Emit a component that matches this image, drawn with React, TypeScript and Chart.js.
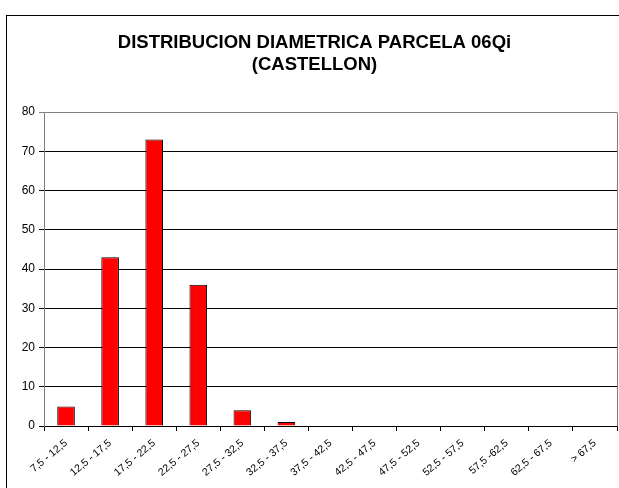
import React, { useEffect, useRef } from "react";
import { Chart, registerables } from "chart.js";

Chart.register(...registerables);

const TITLE_LINES = ["DISTRIBUCION DIAMETRICA PARCELA 06Qi", "(CASTELLON)"];
const CATEGORIES = [
  "7,5 - 12,5",
  "12,5 - 17,5",
  "17,5 - 22,5",
  "22,5 - 27,5",
  "27,5 - 32,5",
  "32,5 - 37,5",
  "37,5 - 42,5",
  "42,5 - 47,5",
  "47,5 - 52,5",
  "52,5 - 57,5",
  "57,5 -62,5",
  "62,5 - 67,5",
  "> 67,5",
];
const COUNTS = [5, 43, 73, 36, 4, 1, 0, 0, 0, 0, 0, 0, 0];
const Y_MIN = 0;
const Y_MAX = 80;
const Y_STEP = 10;

const FONT = "Arial, 'Liberation Sans', sans-serif";

const plotBorder = {
  id: "plotBorder",
  afterDraw(chart: any) {
    const { ctx, chartArea } = chart;
    ctx.save();
    ctx.strokeStyle = "#808080";
    ctx.lineWidth = 1;
    ctx.beginPath();
    const x = Math.round(chartArea.right) + 0.5;
    ctx.moveTo(x, Math.round(chartArea.top) + 0.5);
    ctx.lineTo(x, Math.round(chartArea.bottom) + 0.5);
    ctx.stroke();
    ctx.restore();
  },
};

export default function App() {
  const ref = useRef<HTMLCanvasElement | null>(null);

  useEffect(() => {
    if (!ref.current) return;
    const chart = new Chart(ref.current, {
      type: "bar",
      data: {
        labels: CATEGORIES,
        datasets: [
          {
            data: COUNTS,
            backgroundColor: "#FF0000",
            borderColor: "#000000",
            borderWidth: 1,
            categoryPercentage: 1,
            barPercentage: 0.4,
          },
        ],
      },
      plugins: [plotBorder],
      options: {
        animation: false,
        responsive: false,
        layout: { padding: { left: 12, right: 2, top: 0, bottom: 0 } },
        plugins: {
          legend: { display: false },
          tooltip: { enabled: false },
          title: {
            display: true,
            text: TITLE_LINES,
            color: "#000000",
            font: { family: FONT, size: 18.5, weight: "bold", lineHeight: 1.19 },
            padding: { top: 32, bottom: 36 },
          },
        },
        scales: {
          x: {
            grid: {
              display: true,
              drawOnChartArea: false,
              drawTicks: true,
              tickLength: 5,
              color: "#000000",
              offset: true,
            },
            border: { display: true, color: "#000000" },
            ticks: {
              color: "#000000",
              font: { family: FONT, size: 10.5 },
              minRotation: 40,
              maxRotation: 40,
              autoSkip: false,
              padding: 6,
            },
            afterFit(scale: any) {
              scale.height = 62;
            },
          },
          y: {
            min: Y_MIN,
            max: Y_MAX,
            grid: {
              color: (c: any) => (c.tick && c.tick.value === Y_MAX ? "#808080" : "#000000"),
              tickLength: 5,
            },
            border: { display: true, color: "#808080" },
            ticks: {
              stepSize: Y_STEP,
              color: "#000000",
              font: { family: FONT, size: 12 },
              padding: 4,
            },
            afterFit(scale: any) {
              scale.width = 32;
            },
          },
        },
      },
    });
    return () => chart.destroy();
  }, []);

  return (
    <div
      style={{
        position: "fixed",
        left: 0,
        top: 0,
        width: 619,
        height: 488,
        background: "#ffffff",
        overflow: "hidden",
      }}
    >
      <div
        style={{
          position: "absolute",
          left: 6,
          top: 15,
          width: 700,
          height: 600,
          border: "1px solid #000000",
          boxSizing: "border-box",
        }}
      />
      <canvas
        ref={ref}
        width={619}
        height={488}
        style={{ position: "absolute", left: 0, top: 0, width: 619, height: 488 }}
      />
    </div>
  );
}
